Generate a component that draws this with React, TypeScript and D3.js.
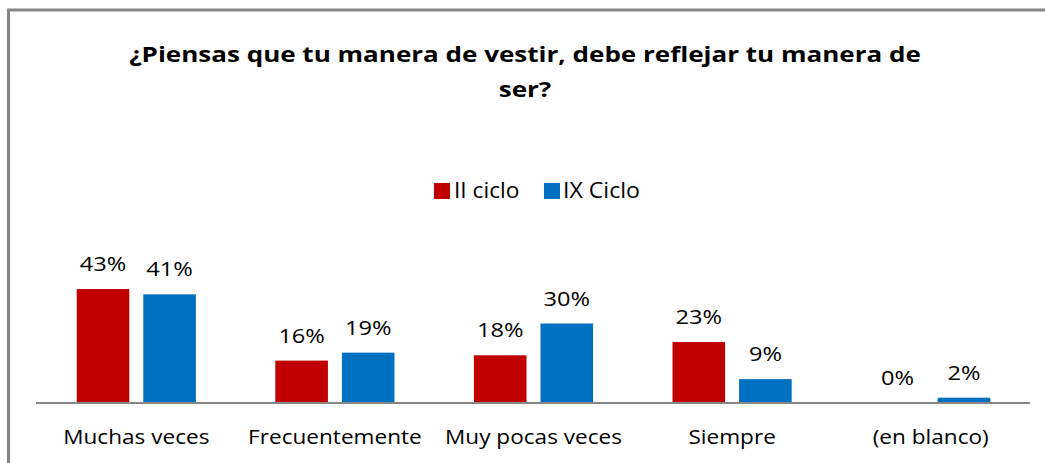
import React from "react";
import * as d3 from "d3";

const categories = ["Muchas veces", "Frecuentemente", "Muy pocas veces", "Siempre", "(en blanco)"];
const seriesNames = ["II ciclo", "IX Ciclo"];
const seriesColors = ["#C00000", "#0070C0"];
const iiCiclo = [43, 16, 18, 23, 0];
const ixCiclo = [41, 19, 30, 9, 2];
const titleLines = ["¿Piensas que tu manera de vestir, debe reflejar tu manera de", "ser?"];

const W = 1045;
const H = 463;
const FONT = "'Open Sans', 'Noto Sans', sans-serif";

function SText(props: { x: number; y: number; sx: number; size: number; anchor?: string; bold?: boolean; children: React.ReactNode }) {
  return (
    <text
      transform={`translate(${props.x},${props.y}) scale(${props.sx},1)`}
      textAnchor={props.anchor || "middle"}
      fontFamily={FONT}
      fontWeight={props.bold ? 700 : 400}
      fontSize={props.size}
      fill="#000"
    >
      {props.children}
    </text>
  );
}

export default function App() {
  const x0 = d3.scaleBand<string>().domain(categories).range([37, 1030]).paddingInner(0.4).paddingOuter(0.2);
  const x1 = d3.scaleBand<string>().domain(seriesNames).range([0, x0.bandwidth()]).paddingInner(0.21);
  const y = d3.scaleLinear().domain([0, 50]).range([403, 270.5]);
  const series = [iiCiclo, ixCiclo];

  return (
    <svg width={W} height={H} style={{ position: "absolute", left: 0, top: 0, display: "block", background: "#fff" }}>
      <rect x={8.5} y={10} width={1200} height={600} fill="#fff" stroke="#868686" strokeWidth={3} />
      {titleLines.map((t, i) => (
        <SText key={i} x={525} y={62 + i * 35} sx={1.24} size={21} bold>
          {t}
        </SText>
      ))}
      {/* legend */}
      <g>
        <rect x={434} y={183} width={16} height={16} fill={seriesColors[0]} />
        <SText x={454} y={198} sx={1.08} size={21} anchor="start">{seriesNames[0]}</SText>
        <rect x={544} y={183} width={16} height={16} fill={seriesColors[1]} />
        <SText x={563} y={198} sx={1.1} size={21} anchor="start">{seriesNames[1]}</SText>
      </g>
      {categories.map((c, ci) => (
        <g key={c} transform={`translate(${x0(c)},0)`}>
          {seriesNames.map((s, si) => {
            const v = series[si][ci];
            const bx = x1(s)!;
            return (
              <g key={s}>
                {v > 0 && (
                  <rect x={bx} y={y(v)} width={x1.bandwidth()} height={y(0) - y(v)} fill={seriesColors[si]} />
                )}
                <SText x={bx + x1.bandwidth() / 2} y={y(v) - 18} sx={1.18} size={20}>
                  {v + "%"}
                </SText>
              </g>
            );
          })}
          <SText x={x0.bandwidth() / 2} y={444} sx={1.13} size={20}>
            {c}
          </SText>
        </g>
      ))}
      <line x1={36} x2={1030} y1={403} y2={403} stroke="#868686" strokeWidth={2} />
    </svg>
  );
}
